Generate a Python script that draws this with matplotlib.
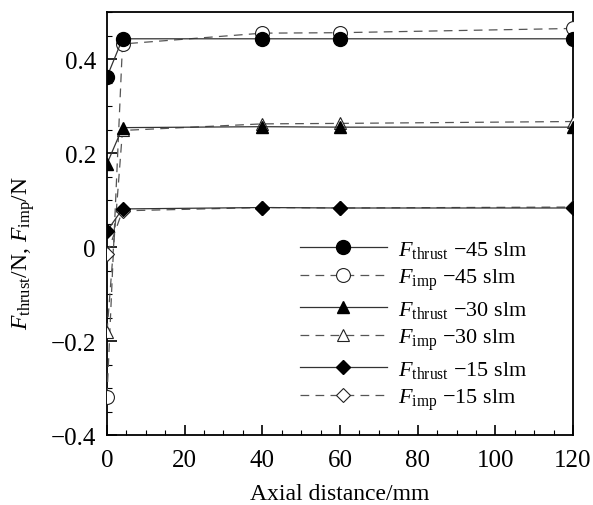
import matplotlib
matplotlib.use("Agg")
import matplotlib.pyplot as plt
from matplotlib.ticker import MultipleLocator, FuncFormatter

plt.rcParams['font.family'] = ['Liberation Serif', 'DejaVu Serif']
plt.rcParams['mathtext.fontset'] = 'custom'
plt.rcParams['mathtext.rm'] = 'Liberation Serif'
plt.rcParams['mathtext.it'] = 'Liberation Serif:italic'
plt.rcParams['axes.unicode_minus'] = True

# Axial positions of the measurement points (mm)
distance = [0, 4, 40, 60, 120]

# Forces (N) for each gas flow rate
thrust_45 = [0.362, 0.443, 0.443, 0.443, 0.443]
imp_45 = [-0.319, 0.432, 0.455, 0.456, 0.465]
thrust_30 = [0.177, 0.254, 0.256, 0.255, 0.255]
imp_30 = [-0.181, 0.248, 0.262, 0.263, 0.267]
thrust_15 = [0.034, 0.081, 0.084, 0.083, 0.083]
imp_15 = [-0.015, 0.077, 0.084, 0.083, 0.085]

series = [
    (r'$F_{\mathrm{thrust}}$ $-$45 slm', thrust_45, 'o', True),
    (r'$F_{\mathrm{imp}}$ $-$45 slm', imp_45, 'o', False),
    (r'$F_{\mathrm{thrust}}$ $-$30 slm', thrust_30, '^', True),
    (r'$F_{\mathrm{imp}}$ $-$30 slm', imp_30, '^', False),
    (r'$F_{\mathrm{thrust}}$ $-$15 slm', thrust_15, 'D', True),
    (r'$F_{\mathrm{imp}}$ $-$15 slm', imp_15, 'D', False),
]

fig = plt.figure(figsize=(5.93, 5.06), dpi=100)
ax = fig.add_axes([0.1804, 0.1383, 0.7859, 0.836])

marker_sizes = {'o': 10, '^': 9, 'D': 7.5}
for label, values, mk, filled in series:
    if filled:
        ax.plot(distance, values, linestyle='-', color='#333333', linewidth=0.9,
                marker=mk, markersize=marker_sizes[mk], markerfacecolor='black',
                markeredgecolor='black', label=label, zorder=4)
    else:
        ax.plot(distance, values, linestyle=(0, (7, 5)), color='#555555', linewidth=0.9,
                marker=mk, markersize=marker_sizes[mk], markerfacecolor='white',
                markeredgecolor='#222222', markeredgewidth=0.8, label=label, zorder=3)

ax.set_xlim(0, 120)
ax.set_ylim(-0.4, 0.5)
ax.xaxis.set_major_locator(MultipleLocator(20))
ax.xaxis.set_minor_locator(MultipleLocator(5))
ax.yaxis.set_major_locator(MultipleLocator(0.2))
ax.yaxis.set_minor_locator(MultipleLocator(0.05))


def fmt_y(v, pos):
    if abs(v) < 1e-9:
        return '0'
    return f'{v:.1f}'.replace('-', '\u2212')


ax.yaxis.set_major_formatter(FuncFormatter(fmt_y))
ax.tick_params(axis='both', which='both', direction='in', top=False, right=False,
               labelsize=18, width=1.2)
ax.tick_params(which='major', length=7)
ax.tick_params(which='minor', length=3.5, width=0.8)
ax.tick_params(axis='x', pad=10)
ax.tick_params(axis='y', pad=8)
for sp in ax.spines.values():
    sp.set_linewidth(1.3)

ax.set_xlabel('Axial distance/mm', fontsize=17, labelpad=9)
ax.set_ylabel(r'$F_{\mathrm{thrust}}$/N, $F_{\mathrm{imp}}$/N', fontsize=17)
ax.yaxis.set_label_coords(-0.15, 0.433)

ax.legend(loc='upper left', bbox_to_anchor=(0.39, 0.49), frameon=False, fontsize=16,
          handlelength=3.9, handletextpad=0.5, labelspacing=0.3, borderpad=0)

fig.savefig('out.png', dpi=100)
